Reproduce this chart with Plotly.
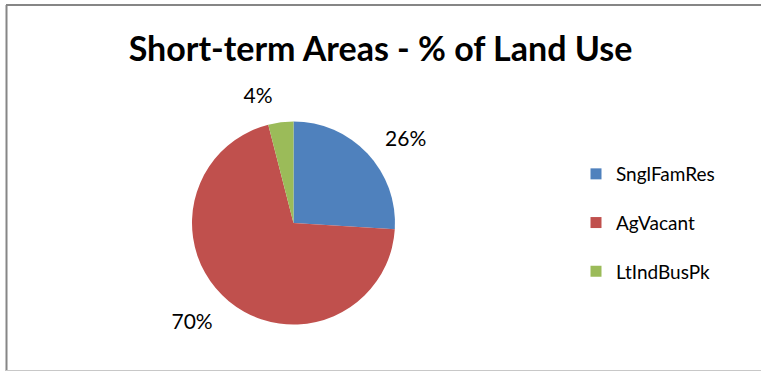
import plotly.graph_objects as go

categories = ["SnglFamRes", "AgVacant", "LtIndBusPk"]
values = [26, 70, 4]
colors = ["#4F81BD", "#C0504D", "#9BBB59"]
title_text = "Short-term Areas - % of Land Use"

W, H = 761, 372
FONT = "Lato"

def px_x(v):
    return v / W

def px_y(v):
    return 1 - v / H

cx, cy, r = 293.5, 223, 101.5
R = 117

fig = go.Figure()

# visible pie
fig.add_trace(go.Pie(
    labels=categories, values=values, sort=False, direction="clockwise", rotation=0,
    marker=dict(colors=colors, line=dict(width=0)),
    textinfo="none", showlegend=False, hoverinfo="label+percent",
    domain=dict(x=[px_x(cx - r), px_x(cx + r)], y=[px_y(cy + r), px_y(cy - r)]),
))
# transparent larger pie carrying outside labels
fig.add_trace(go.Pie(
    labels=categories, values=values, sort=False, direction="clockwise", rotation=0,
    marker=dict(colors=["rgba(0,0,0,0)"] * 3, line=dict(width=0)),
    textinfo="percent", textposition="outside",
    outsidetextfont=dict(family=FONT, size=21, color="#000000"),
    showlegend=False, hoverinfo="skip",
    domain=dict(x=[px_x(cx - R), px_x(cx + R)], y=[px_y(cy + R), px_y(cy - R)]),
))

# legend entries
for name, c in zip(categories, colors):
    fig.add_trace(go.Scatter(
        x=[None], y=[None], mode="markers", name=name, legendgroup=name,
        marker=dict(symbol="square", size=11, color=c),
    ))

fig.update_layout(
    width=W, height=H,
    margin=dict(l=0, r=0, t=0, b=0),
    paper_bgcolor="white", plot_bgcolor="white",
    xaxis=dict(visible=False), yaxis=dict(visible=False),
    title=dict(text="<b>" + title_text + "</b>", x=0.5, xanchor="center",
               y=px_y(49), yanchor="middle",
               font=dict(family=FONT, size=34, color="#000000")),
    legend=dict(x=px_x(576), xanchor="left", y=px_y(155), yanchor="top",
                traceorder="grouped", tracegroupgap=21,
                font=dict(family=FONT, size=19, color="#000000"),
                itemwidth=30, bgcolor="rgba(0,0,0,0)"),
    shapes=[
        dict(type="line", xref="paper", yref="paper", x0=px_x(6), x1=1.01, y0=px_y(5), y1=px_y(5),
             line=dict(color="#868686", width=2)),
        dict(type="line", xref="paper", yref="paper", x0=px_x(6.5), x1=px_x(6.5), y0=px_y(5), y1=px_y(371),
             line=dict(color="#868686", width=2)),
        dict(type="line", xref="paper", yref="paper", x0=px_x(6), x1=1.01, y0=px_y(370.5), y1=px_y(370.5),
             line=dict(color="#C8C8C8", width=1)),
    ],
)

fig.write_html("out.html")
